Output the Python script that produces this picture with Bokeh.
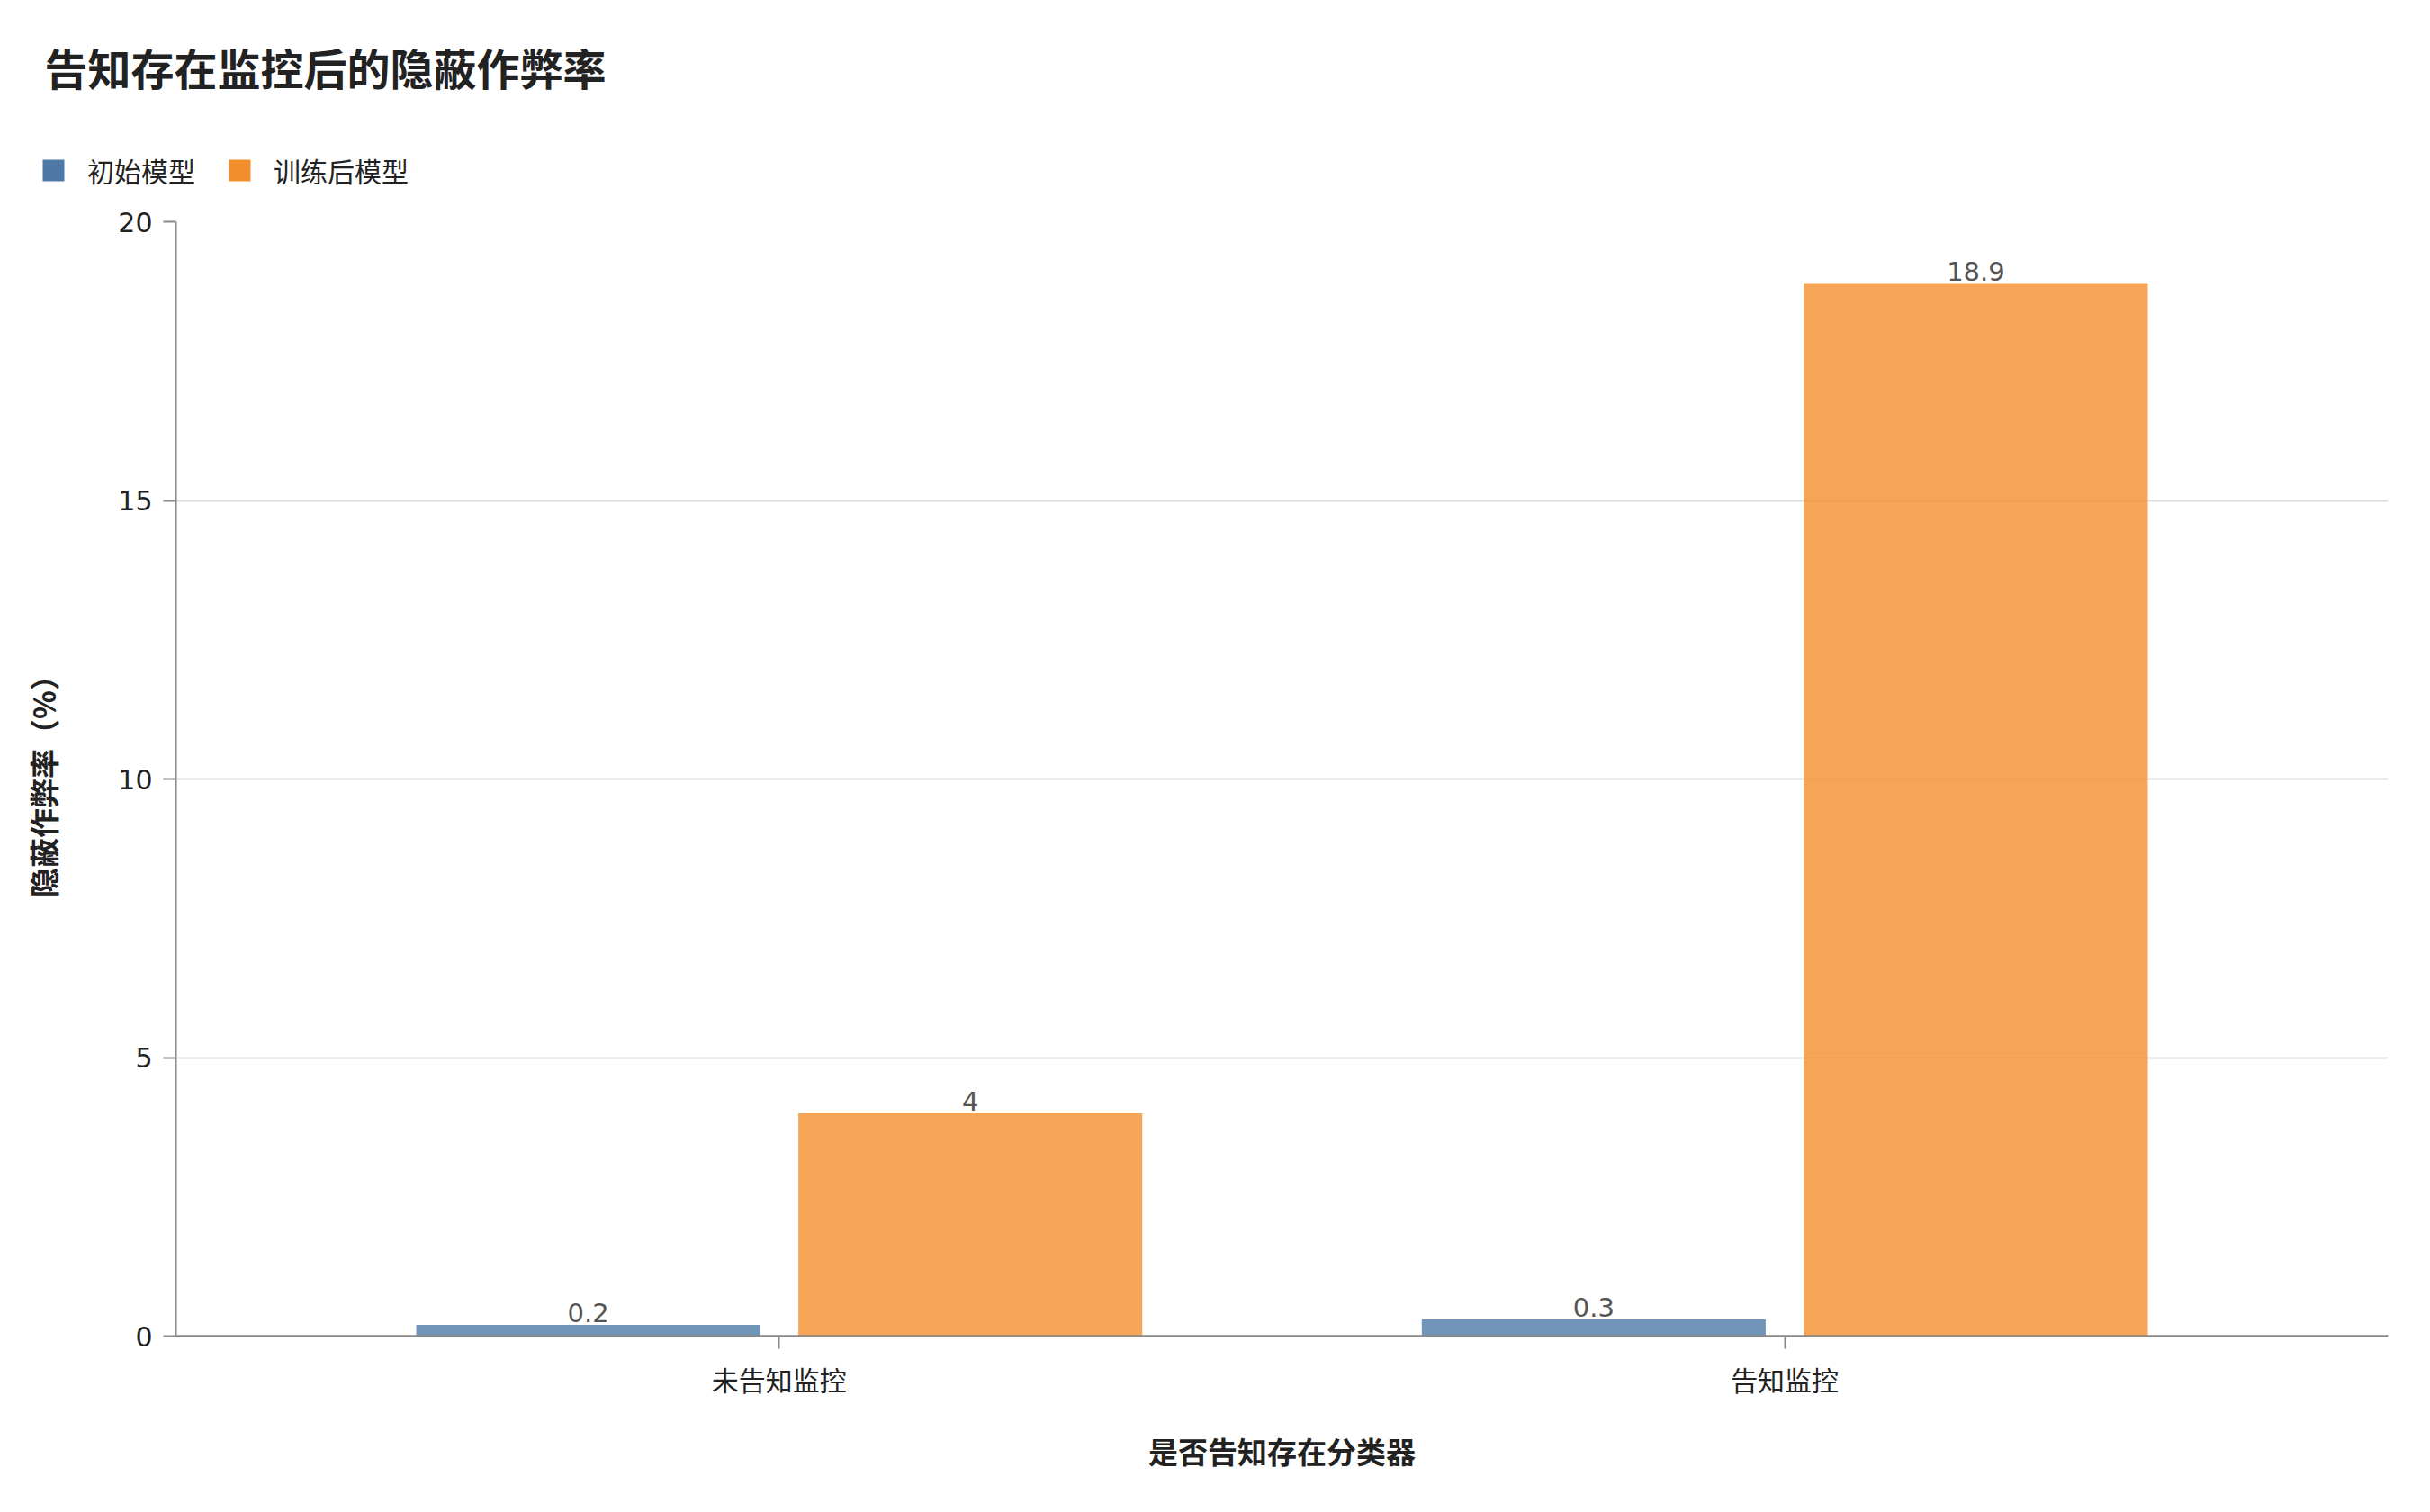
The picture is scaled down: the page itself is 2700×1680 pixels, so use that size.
from bokeh.plotting import figure
from bokeh.models import (ColumnDataSource, FactorRange, Legend, LegendItem, Title,
                          FixedTicker, Range1d)
from bokeh.transform import dodge
from bokeh.core.properties import value
from bokeh.embed import file_html
from bokeh.resources import INLINE

# ---- data ----
categories = ["未告知监控", "告知监控"]
series_names = ["初始模型", "训练后模型"]
initial_values = [0.2, 0.3]
trained_values = [4.0, 18.9]
y_ticks = [0, 5, 10, 15, 20]

TITLE = "告知存在监控后的隐蔽作弊率"
X_TITLE = "是否告知存在分类器"
Y_TITLE = "隐蔽作弊率（%）"

CJK = "Noto Sans CJK SC"
NUM = "DejaVu Sans"
BLUE = "#4e79a7"
ORANGE = "#f28e2b"
TXT = "#222222"

W = 2684
TOP_H = 233
MAIN_H = 1417

# ---------------- header figure: title + legend ----------------
head = figure(width=W, height=TOP_H, x_range=Range1d(0, 1), y_range=Range1d(0, 1),
              x_axis_type=None, y_axis_type=None, title=None,
              toolbar_location=None, output_backend="svg",
              min_border_left=0, min_border_right=0, min_border_top=0, min_border_bottom=0)
head.outline_line_color = None
head.background_fill_color = "white"
head.border_fill_color = "white"

dummy = ColumnDataSource(dict(x=[0.5], v=[0]))
d1 = head.vbar(x="x", top="v", bottom="v", width=0.0, source=dummy,
               fill_color=BLUE, line_color=None)
d2 = head.vbar(x="x", top="v", bottom="v", width=0.0, source=dummy,
               fill_color=ORANGE, line_color=None)

legend = Legend(
    items=[LegendItem(label=series_names[0], renderers=[d1]),
           LegendItem(label=series_names[1], renderers=[d2])],
    orientation="horizontal",
    location=(44, 22),
    glyph_width=30, glyph_height=30,
    label_text_font=CJK, label_text_font_size="30px", label_text_color=TXT,
    label_standoff=23, spacing=34,
    padding=0, margin=0,
    border_line_color=None, background_fill_alpha=0,
)
head.add_layout(legend, "center")

title = Title(text=TITLE, text_font=CJK, text_font_size="48px", text_font_style="bold",
              text_color=TXT, align="left", offset=49, standoff=72)
head.add_layout(title, "above")

# ---------------- main chart ----------------
src = ColumnDataSource(dict(
    cat=categories,
    init=initial_values,
    trained=trained_values,
    init_lbl=[f"{v:g}" for v in initial_values],
    trained_lbl=[f"{v:g}" for v in trained_values],
))

p = figure(
    x_range=FactorRange(*categories, range_padding=0.1),
    y_range=(0, 20),
    width=W, height=MAIN_H,
    title=None,
    toolbar_location=None,
    output_backend="svg",
    min_border_left=195, min_border_right=31,
    min_border_top=13, min_border_bottom=166,
)

BW = 0.342
OFF = 0.19

p.vbar(x=dodge("cat", -OFF, range=p.x_range), top="init", width=BW, source=src,
       fill_color=BLUE, fill_alpha=0.8, line_color=None)
p.vbar(x=dodge("cat", OFF, range=p.x_range), top="trained", width=BW, source=src,
       fill_color=ORANGE, fill_alpha=0.8, line_color=None)

lbl_kw = dict(source=src, text_align="center", text_baseline="bottom", y_offset=-3,
              text_color="#555555", text_font=value(NUM), text_font_size="29px")
p.text(x=dodge("cat", -OFF, range=p.x_range), y="init", text="init_lbl", **lbl_kw)
p.text(x=dodge("cat", OFF, range=p.x_range), y="trained", text="trained_lbl", **lbl_kw)

p.xaxis.axis_label = X_TITLE
p.xaxis.axis_label_text_font = CJK
p.xaxis.axis_label_text_font_size = "33px"
p.xaxis.axis_label_text_font_style = "bold"
p.xaxis.axis_label_text_color = TXT
p.xaxis.axis_label_standoff = 31
p.xaxis.major_label_text_font = CJK
p.xaxis.major_label_text_font_size = "30px"
p.xaxis.major_label_text_color = TXT
p.xaxis.major_label_standoff = 11
p.xaxis.major_tick_out = 14
p.xaxis.major_tick_in = 0
p.xaxis.major_tick_line_color = "#888888"
p.xaxis.major_tick_line_width = 2
p.xaxis.axis_line_color = "#888888"
p.xaxis.axis_line_width = 2.5

p.yaxis.ticker = FixedTicker(ticks=y_ticks)
p.yaxis.axis_label = Y_TITLE
p.yaxis.axis_label_text_font = CJK
p.yaxis.axis_label_text_font_size = "33px"
p.yaxis.axis_label_text_font_style = "bold"
p.yaxis.axis_label_text_color = TXT
p.yaxis.axis_label_standoff = 56
p.yaxis.major_label_text_font = NUM
p.yaxis.major_label_text_font_size = "30px"
p.yaxis.major_label_text_color = TXT
p.yaxis.major_label_standoff = 12
p.yaxis.major_tick_out = 14
p.yaxis.major_tick_in = 0
p.yaxis.minor_tick_line_color = None
p.yaxis.major_tick_line_color = "#888888"
p.yaxis.major_tick_line_width = 2
p.yaxis.axis_line_color = "#888888"
p.yaxis.axis_line_width = 2

p.xgrid.grid_line_color = None
p.ygrid.grid_line_color = "#dddddd"
p.ygrid.grid_line_width = 2
p.outline_line_color = None
p.background_fill_color = "white"
p.border_fill_color = "white"

# two independent roots stacked on the page (no frame alignment between them)
open("out.html", "w").write(file_html([head, p], INLINE))
